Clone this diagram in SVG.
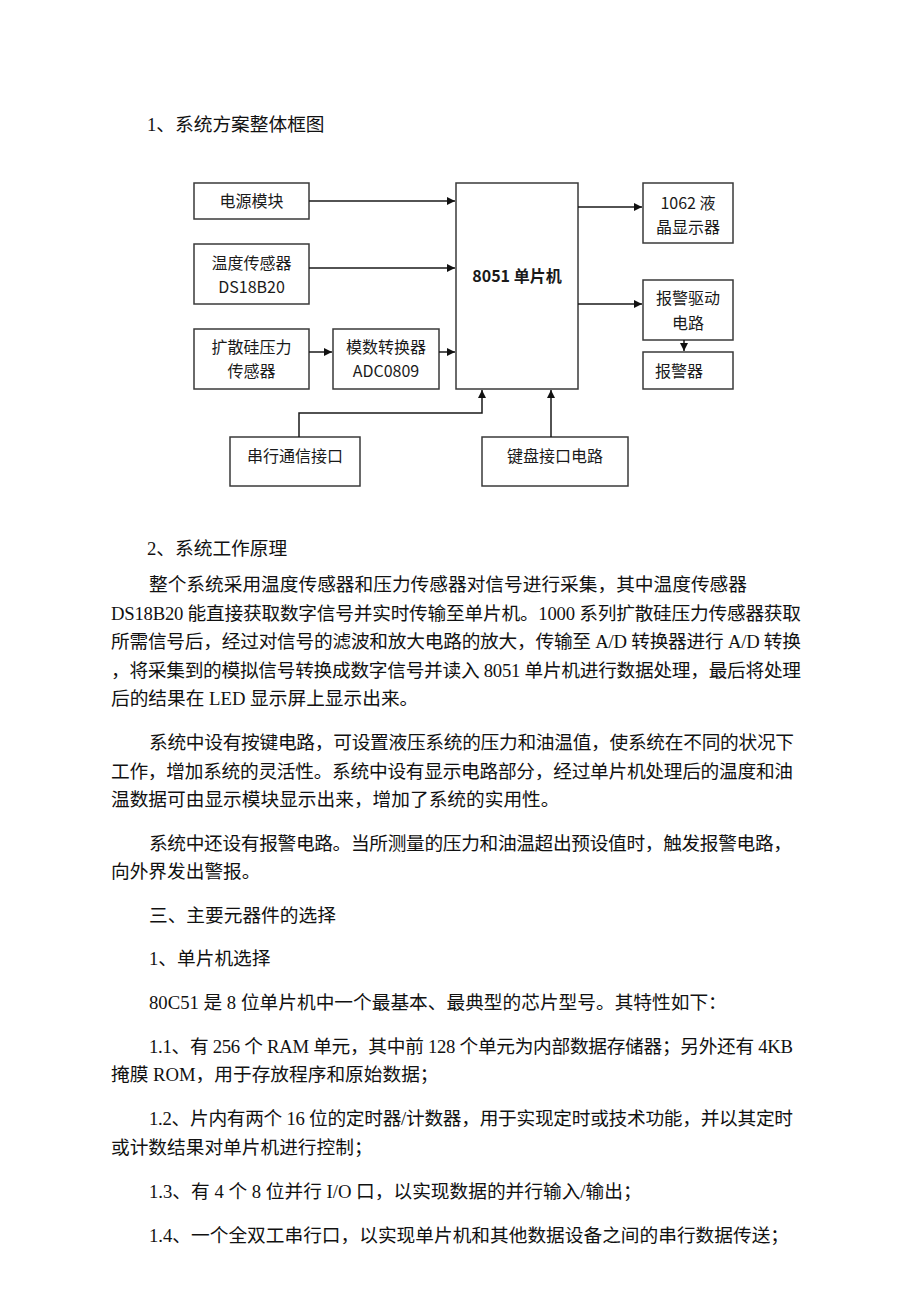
<svg xmlns="http://www.w3.org/2000/svg" width="920" height="1302" viewBox="0 0 920 1302">
<style>
.bg{fill:#ffffff}
.box{fill:#ffffff;stroke:#3a3a3a;stroke-width:1.5}
.lbl{font-family:"Noto Sans CJK SC","Noto Sans",sans-serif;font-size:16px;fill:#1a1a1a;text-anchor:middle}
.bold{font-weight:bold}
.wire{fill:none;stroke:#1a1a1a;stroke-width:1.5}
.body{font-family:"Liberation Serif","Noto Sans CJK SC",serif;font-size:18.7px;fill:#111111}
</style>
<defs>
<marker id="arr" viewBox="0 0 10 10" refX="10" refY="5" markerWidth="8" markerHeight="8" markerUnits="userSpaceOnUse" orient="auto">
<path d="M0,0 L10,5 L0,10 z" fill="#111111"/>
</marker>
</defs>
<rect class="bg" x="0" y="0" width="920" height="1302"/>

<text class="body" x="147" y="131">1、系统方案整体框图</text>

<g id="power"><rect class="box" x="194" y="183" width="115" height="36"/><text class="lbl" x="251.5" y="207">电源模块</text></g>
<g id="temp"><rect class="box" x="194" y="244" width="115" height="60"/><text class="lbl" x="251.5" y="269">温度传感器</text><text class="lbl" x="251.5" y="293">DS18B20</text></g>
<g id="pressure"><rect class="box" x="194" y="329" width="115" height="60"/><text class="lbl" x="251.5" y="353">扩散硅压力</text><text class="lbl" x="251.5" y="377">传感器</text></g>
<g id="adc"><rect class="box" x="333" y="329" width="106" height="60"/><text class="lbl" x="386" y="353">模数转换器</text><text class="lbl" x="386" y="377">ADC0809</text></g>
<g id="mcu"><rect class="box" x="456" y="183" width="122" height="206"/><text class="lbl bold" x="517" y="282">8051 单片机</text></g>
<g id="lcd"><rect class="box" x="643" y="183" width="90" height="60"/><text class="lbl" x="688" y="209">1062 液</text><text class="lbl" x="688" y="233">晶显示器</text></g>
<g id="alarmdrv"><rect class="box" x="643" y="280" width="90" height="60"/><text class="lbl" x="688" y="304">报警驱动</text><text class="lbl" x="688" y="329">电路</text></g>
<g id="alarm"><rect class="box" x="643" y="352" width="90" height="37"/><text class="lbl" x="655" y="377" style="text-anchor:start">报警器</text></g>
<g id="serial"><rect class="box" x="230" y="437" width="130" height="49"/><text class="lbl" x="295" y="462">串行通信接口</text></g>
<g id="keyboard"><rect class="box" x="482" y="437" width="146" height="49"/><text class="lbl" x="555" y="462">键盘接口电路</text></g>

<g id="connectors">
<line class="wire" x1="309" y1="201" x2="455" y2="201" marker-end="url(#arr)"/>
<line class="wire" x1="309" y1="268" x2="455" y2="268" marker-end="url(#arr)"/>
<line class="wire" x1="309" y1="352" x2="332" y2="352" marker-end="url(#arr)"/>
<line class="wire" x1="439" y1="352" x2="455" y2="352" marker-end="url(#arr)"/>
<line class="wire" x1="578" y1="207" x2="642" y2="207" marker-end="url(#arr)"/>
<line class="wire" x1="578" y1="304" x2="642" y2="304" marker-end="url(#arr)"/>
<line class="wire" x1="684" y1="340" x2="684" y2="351" marker-end="url(#arr)"/>
<polyline class="wire" points="299,437 299,413 482,413 482,390" marker-end="url(#arr)"/>
<line class="wire" x1="551" y1="437" x2="551" y2="390" marker-end="url(#arr)"/>
</g>

<g id="text">
<text class="body" x="147" y="555">2、系统工作原理</text>
<text class="body" x="149" y="591">整个系统采用温度传感器和压力传感器对信号进行采集，其中温度传感器</text>
<text class="body" x="111" y="620" textLength="690" lengthAdjust="spacing">DS18B20 能直接获取数字信号并实时传输至单片机。1000 系列扩散硅压力传感器获取</text>
<text class="body" x="111" y="648" textLength="690" lengthAdjust="spacing">所需信号后，经过对信号的滤波和放大电路的放大，传输至 A/D 转换器进行 A/D 转换</text>
<text class="body" x="111" y="677" textLength="690" lengthAdjust="spacing">，将采集到的模拟信号转换成数字信号并读入 8051 单片机进行数据处理，最后将处理</text>
<text class="body" x="111" y="705">后的结果在 LED 显示屏上显示出来。</text>

<text class="body" x="149" y="749" textLength="645" lengthAdjust="spacing">系统中设有按键电路，可设置液压系统的压力和油温值，使系统在不同的状况下</text>
<text class="body" x="111" y="778" textLength="682" lengthAdjust="spacing">工作，增加系统的灵活性。系统中设有显示电路部分，经过单片机处理后的温度和油</text>
<text class="body" x="111" y="806">温数据可由显示模块显示出来，增加了系统的实用性。</text>

<text class="body" x="149" y="850" textLength="643" lengthAdjust="spacing">系统中还设有报警电路。当所测量的压力和油温超出预设值时，触发报警电路，</text>
<text class="body" x="111" y="878">向外界发出警报。</text>

<text class="body" x="149" y="922">三、主要元器件的选择</text>
<text class="body" x="149" y="965">1、单片机选择</text>
<text class="body" x="149" y="1009">80C51 是 8 位单片机中一个最基本、最典型的芯片型号。其特性如下：</text>
<text class="body" x="149" y="1053" textLength="644" lengthAdjust="spacing">1.1、有 256 个 RAM 单元，其中前 128 个单元为内部数据存储器；另外还有 4KB</text>
<text class="body" x="111" y="1081">掩膜 ROM，用于存放程序和原始数据；</text>
<text class="body" x="149" y="1125" textLength="644" lengthAdjust="spacing">1.2、片内有两个 16 位的定时器/计数器，用于实现定时或技术功能，并以其定时</text>
<text class="body" x="111" y="1154">或计数结果对单片机进行控制；</text>
<text class="body" x="149" y="1198">1.3、有 4 个 8 位并行 I/O 口，以实现数据的并行输入/输出；</text>
<text class="body" x="149" y="1242">1.4、一个全双工串行口，以实现单片机和其他数据设备之间的串行数据传送；</text>
</g>
</svg>
